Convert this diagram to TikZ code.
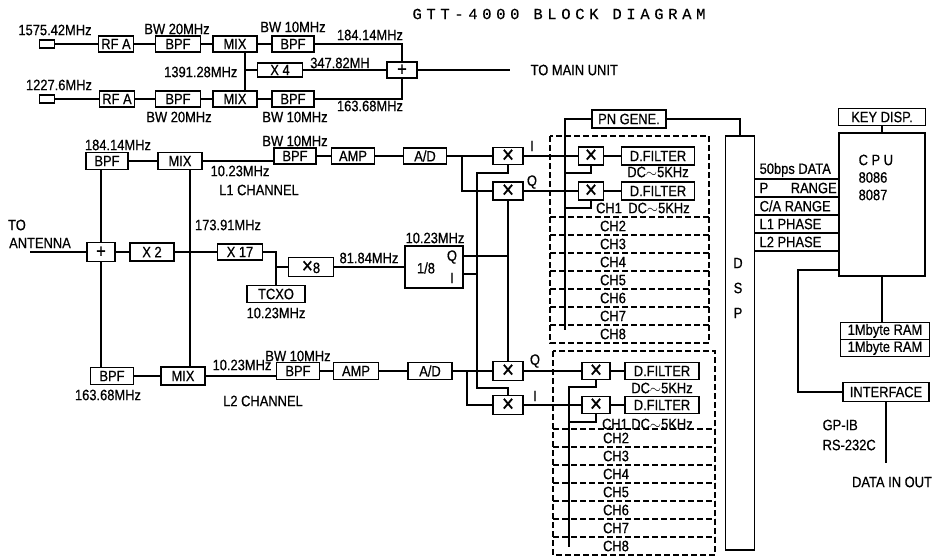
\documentclass[tikz,border=0pt]{standalone}
\usepackage{fontspec}
\setmainfont[FakeStretch=0.86,FakeBold=0.6]{Liberation Sans}
\newfontfamily\titlefont[LetterSpace=30,FakeBold=0.4]{Liberation Mono}
\usetikzlibrary{calc}

\begin{document}
\begin{tikzpicture}[x=1pt,y=-1pt,line width=1.3pt,
    every node/.style={font=\fontsize{15}{17}\selectfont},
    blk/.style={draw,inner sep=0pt,minimum height=16pt},
    mul/.style={blk,font=\fontsize{24}{20}\selectfont},
    chbox/.style={draw,line width=1.3pt,dash pattern=on 6pt off 3pt},
    lbl/.style={inner sep=0pt}]
    \useasboundingbox (0,0) rectangle (933,558);
    \node[lbl,font=\titlefont\fontsize{15.5}{17}\selectfont] (title) at (559,14) {GTT-4000 BLOCK DIAGRAM};

    %%% antenna unit
    \node[blk,minimum width=15pt,minimum height=8pt] (ant1) at (47,44) {};
    \node[blk,minimum width=35pt] (rfa1) at (116,44) {RF A};
    \node[blk,minimum width=45pt] (bpf1) at (178,44) {BPF};
    \node[blk,minimum width=44pt] (mix1) at (235,44) {MIX};
    \node[blk,minimum width=42pt] (bpf2) at (293,44) {BPF};
    \node[blk,minimum width=45pt,minimum height=14pt] (x4) at (280,70) {X 4};
    \node[blk,font=\fontsize{19}{19}\selectfont,minimum width=30pt] (sum1) at (402,70) {+};
    \node[blk,minimum width=15pt,minimum height=8pt] (ant2) at (47,99) {};
    \node[blk,minimum width=35pt] (rfa2) at (117,99) {RF A};
    \node[blk,minimum width=45pt] (bpf3) at (178,99) {BPF};
    \node[blk,minimum width=44pt] (mix2) at (235,99) {MIX};
    \node[blk,minimum width=42pt] (bpf4) at (293,99) {BPF};
    \coordinate (lo1) at (245,70);
    \coordinate (mainout) at (510,70);
    \draw (ant1) -- (rfa1) -- (bpf1) -- (mix1) -- (bpf2);
    \draw (ant2) -- (rfa2) -- (bpf3) -- (mix2) -- (bpf4);
    \draw ([xshift=10pt]mix1.south) -- ([xshift=10pt]mix2.north);
    \draw (lo1) -- (x4) -- (sum1);
    \draw (bpf2) -| (sum1);
    \draw (bpf4) -| (sum1);
    \draw (sum1) -- (mainout);
    \node[lbl] (f1) at (55,30) {1575.42MHz};
    \node[lbl] (f2) at (59,85) {1227.6MHz};
    \node[lbl] (bw1) at (177,29) {BW 20MHz};
    \node[lbl] (bw2) at (293,27) {BW 10MHz};
    \node[lbl] (bw3) at (179,117) {BW 20MHz};
    \node[lbl] (bw4) at (295,117) {BW 10MHz};
    \node[lbl,anchor=east] (flo) at (238,72) {1391.28MHz};
    \node[lbl] (fx4) at (340,63) {347.82MH};
    \node[lbl] (fif1) at (370,35) {184.14MHz};
    \node[lbl] (fif2) at (370,106) {163.68MHz};
    \node[lbl,anchor=west] (tomain) at (530,70) {TO MAIN UNIT};

    %%% main unit, L1 / L2 channel
    \node[blk,minimum width=42pt,minimum height=17pt] (bpfL1) at (107,161) {BPF};
    \node[blk,minimum width=44pt,minimum height=17pt] (mixL1) at (180,161) {MIX};
    \node[blk,minimum width=42pt] (bpfL1b) at (295,156) {BPF};
    \node[blk,minimum width=43pt] (ampL1) at (353,156) {AMP};
    \node[blk,minimum width=43pt] (adL1) at (425,156) {A/D};
    \node[blk,font=\fontsize{19}{19}\selectfont,minimum width=28pt,minimum height=19pt] (sumA) at (101,252) {+};
    \node[blk,minimum width=44pt,minimum height=18pt] (x2) at (152,252) {X 2};
    \node[blk,minimum width=45pt] (x17) at (240,252) {X 17};
    \node[blk,minimum width=45pt,minimum height=19pt] (x8) at (311,267) {{\fontsize{22}{19}\selectfont ×}8};
    \node[blk,minimum width=58pt,minimum height=17pt] (tcxo) at (276,294) {TCXO};
    \node[blk,minimum width=58pt,minimum height=42pt] (div) at (434,267) {};
    \node[lbl] (divt) at (426,268) {1/8};
    \node[lbl] (divq) at (452,257) {Q};
    \node[lbl] (divi) at (452,278) {I};
    \node[blk,minimum width=43pt,minimum height=17pt] (bpfL2) at (112,376) {BPF};
    \node[blk,minimum width=44pt,minimum height=18pt] (mixL2) at (183,376) {MIX};
    \node[blk,minimum width=43pt,minimum height=17pt] (bpfL2b) at (298,371) {BPF};
    \node[blk,minimum width=45pt,minimum height=17pt] (ampL2) at (356,371) {AMP};
    \node[blk,minimum width=44pt,minimum height=17pt] (adL2) at (430,371) {A/D};
    \coordinate (antin) at (30,252);
    \draw (antin) -- (sumA) -- (x2) -- (x17);
    \draw (bpfL1.south -| sumA) -- (sumA) -- (bpfL2.north -| sumA);
    \draw ([xshift=10pt]mixL1.south) -- ([xshift=10pt]mixL1.south |- mixL2.north);
    \draw (bpfL1) -- (mixL1);
    \draw (mixL1.east) -- (mixL1.east -| bpfL1b.west);
    \draw (bpfL1b) -- (ampL1) -- (adL1);
    \draw (bpfL2) -- (mixL2);
    \draw (mixL2.east) -- (mixL2.east -| bpfL2b.west);
    \draw (bpfL2b) -- (ampL2) -- (adL2);
    \draw (x17) -| (tcxo);
    \draw (tcxo.north |- x8) -- (x8) -- (div);
    \node[lbl] (fL1) at (118,145) {184.14MHz};
    \node[lbl] (fL2) at (108,395) {163.68MHz};
    \node[lbl] (bwL1) at (295,141) {BW 10MHz};
    \node[lbl] (bwL2) at (298,356) {BW 10MHz};
    \node[lbl] (ifL1) at (240,171) {10.23MHz};
    \node[lbl] (ifL2) at (242,365) {10.23MHz};
    \node[lbl] (chL1) at (259,190) {L1 CHANNEL};
    \node[lbl] (chL2) at (263,401) {L2 CHANNEL};
    \node[lbl] (to) at (17,225) {TO};
    \node[lbl] (antenna) at (40,243) {ANTENNA};
    \node[lbl] (f173) at (228,225) {173.91MHz};
    \node[lbl] (f82) at (369,258) {81.84MHz};
    \node[lbl] (ftcxo) at (276,313) {10.23MHz};
    \node[lbl] (fdiv) at (435,238) {10.23MHz};

    %%% I/Q mixers
    \node[mul,minimum width=30pt,minimum height=17pt] (mu1) at (508,156) {×};
    \node[mul,minimum width=30pt,minimum height=18pt] (mu2) at (508,191) {×};
    \node[mul,minimum width=30pt,minimum height=19pt] (ml1) at (508,371) {×};
    \node[mul,minimum width=30pt,minimum height=19pt] (ml2) at (508,405) {×};
    \coordinate (j1) at (462,156);
    \coordinate (j2) at (467,371);
    \coordinate (itop) at (477,173);
    \coordinate (ibot) at (477,388);
    \draw (adL1) -- (mu1);
    \draw (j1) |- (mu2);
    \draw (adL2) -- (ml1);
    \draw (j2) |- (ml2);
    \draw (mu1.south) |- (itop) -- (ibot) -| (ml2.north);
    \draw ([yshift=-7pt]div.east) -- ([yshift=-7pt]div.east -| itop);
    \draw ([yshift=11pt]div.east) -- ([yshift=11pt]div.east -| mu2.south);
    \draw (mu2) -- (ml1);
    \node[lbl] (lu1) at (532,146) {I};
    \node[lbl] (lu2) at (532,182) {Q};
    \node[lbl] (ll1) at (535,361) {Q};
    \node[lbl] (ll2) at (535,396) {I};

    %%% correlators
    \node[blk,minimum width=74pt,minimum height=18pt] (pn) at (629,119) {PN GENE.};
    \node[mul,minimum width=25pt,minimum height=18pt] (xb1) at (591,156) {×};
    \node[blk,minimum width=73pt,minimum height=18pt] (fb1) at (658,156) {D.FILTER};
    \node[mul,minimum width=25pt,minimum height=18pt] (xb2) at (591,191) {×};
    \node[blk,minimum width=73pt,minimum height=18pt] (fb2) at (658,191) {D.FILTER};
    \node[mul,minimum width=28pt,minimum height=17pt] (xc1) at (596,371) {×};
    \node[blk,minimum width=74pt,minimum height=17pt] (fc1) at (662,371) {D.FILTER};
    \node[mul,minimum width=28pt,minimum height=17pt] (xc2) at (596,405) {×};
    \node[blk,minimum width=74pt,minimum height=17pt] (fc2) at (662,405) {D.FILTER};
    \draw (mu1) -- (xb1) -- (fb1);
    \draw (mu2) -- (xb2) -- (fb2);
    \draw (ml1) -- (xc1) -- (fc1);
    \draw (ml2) -- (xc2) -- (fc2);
    \coordinate (pnbot) at (565,330);
    \coordinate (t1) at (565,173);
    \coordinate (t2) at (565,208);
    \coordinate (t3) at (569,387);
    \coordinate (t4) at (569,422);
    \coordinate (pnbot2) at (569,547);
    \draw (pn) -| (pnbot);
    \draw (xb1.south) |- (t1);
    \draw (xb2.south) |- (t2);
    \draw (xc1.south) |- (t3) -- (pnbot2);
    \draw (xc2.south) |- (t4);
    \node[lbl] (dcb1) at (658,172) {DC$\sim$5KHz};
    \node[lbl] (dcb2) at (659,208) {DC$\sim$5KHz};
    \node[lbl] (dcc1) at (662,388) {DC$\sim$5KHz};
    \node[lbl] (dcc2) at (662,424) {DC$\sim$5KHz};
    \node[lbl] (chb1) at (609,208) {CH1};
    \node[lbl] (chc1) at (615,424) {CH1};
    \draw[chbox] (550,136) rectangle (709,343);
    \draw[chbox] (553,351) rectangle (715,555);
    \foreach \k in {0,...,6} {
        \draw[chbox] (550,{217+18*\k}) -- (709,{217+18*\k});
        \draw[chbox] (553,{429+18*\k}) -- (715,{429+18*\k});
    }
    \foreach \k in {2,...,8} {
        \node[lbl] (chu\k) at (613,{226+18*(\k-2)}) {CH\k};
        \node[lbl] (chl\k) at (616,{438+18*(\k-2)}) {CH\k};
    }

    %%% DSP, CPU
    \node[draw,minimum width=29pt,minimum height=414pt,inner sep=0pt] (dsp) at (740,343) {};
    \node[lbl,align=center,font=\fontsize{15}{25}\selectfont] (dsptxt) at (738,288) {D\\S\\P};
    \draw (pn) -| (dsp);
    \node[blk,minimum width=86pt,minimum height=143pt] (cpu) at (882,204.5) {};
    \node[lbl,anchor=north west,align=left,font=\fontsize{15}{17.5}\selectfont] (cputxt) at (858,154) {C P U\\8086\\8087};
    \node[blk,minimum width=87pt,minimum height=17pt] (key) at (882,117) {KEY DISP.};
    \node[blk,minimum width=89pt,minimum height=17pt] (ram1) at (885,331) {1Mbyte RAM};
    \node[blk,minimum width=89pt,minimum height=17pt] (ram2) at (885,348) {1Mbyte RAM};
    \node[blk,minimum width=86pt,minimum height=19pt] (iface) at (886,392) {INTERFACE};
    \draw (key) -- (cpu);
    \draw (cpu.south) -- (cpu.south |- ram1.north);
    \foreach \y in {179,197,215,233,251} {
        \coordinate (b) at (0,\y);
        \draw (dsp.east |- b) -- (cpu.west |- b);
    }
    \node[lbl,anchor=west] (bus1) at (759,170) {50bps DATA};
    \node[lbl,anchor=west] (bus2) at (759,188) {P\hspace{1.5em}RANGE};
    \node[lbl,anchor=west] (bus3) at (759,206) {C/A RANGE};
    \node[lbl,anchor=west] (bus4) at (759,224) {L1 PHASE};
    \node[lbl,anchor=west] (bus5) at (759,242) {L2 PHASE};
    \coordinate (cpuq) at (798,270);
    \coordinate (dio) at (887,463);
    \draw (cpu.west |- cpuq) -- (cpuq) |- (iface);
    \draw (iface.south) -- (iface.south |- dio);
    \node[lbl,anchor=west] (gpib) at (822,425) {GP-IB};
    \node[lbl,anchor=west] (rs) at (822,445) {RS-232C};
    \node[lbl] (data) at (892,482) {DATA IN OUT};
\end{tikzpicture}
\end{document}
